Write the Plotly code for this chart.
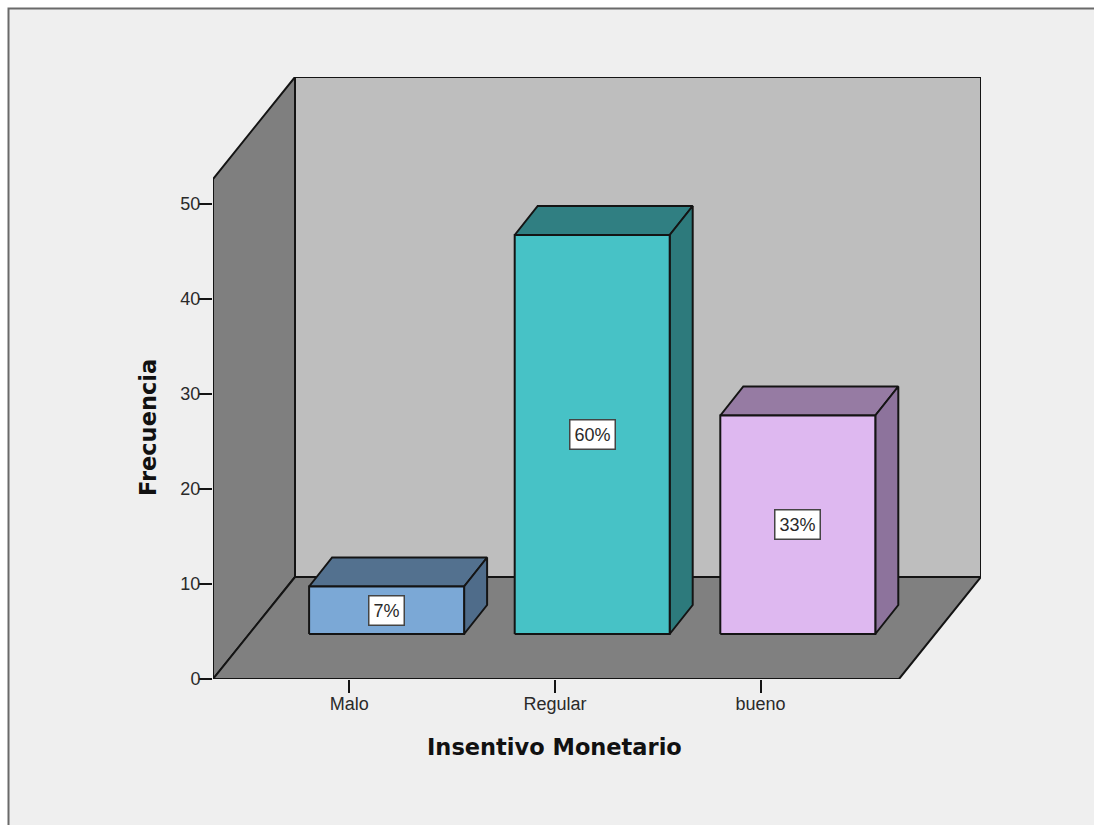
import plotly.graph_objects as go

# ---- data ----
categories = ["Malo", "Regular", "bueno"]
frecuencia = [5, 42, 23]
porcentajes = ["7%", "60%", "33%"]
y_ticks = [0, 10, 20, 30, 40, 50]
x_title = "Insentivo Monetario"
y_title = "Frecuencia"

# ---- styles ----
front_colors = ["#7ba8d6", "#47c2c6", "#deb8f0"]
top_colors = ["#53718f", "#307f82", "#967ba3"]
side_colors = ["#4f6c8a", "#2d7a7c", "#8d739c"]
WALL_BACK, WALL_LEFT, FLOOR = "#bebebe", "#7f7f7f", "#808080"
EDGE = "#141414"
TXT = "#2a2a2a"

# ---- geometry (pixel layout of the page -> axis units) ----
W, H = 1094, 825
PX_L, PX_R, PX_T, PX_B = 213, 981, 77, 679
PX_PER_CAT = 205.6
PX_PER_VAL = 9.5
CAT0_PX = 349.3
cx = lambda px: px / PX_PER_CAT
vy = lambda px: px / PX_PER_VAL
x_left = cx(PX_L - CAT0_PX)
x_right = cx(PX_R - CAT0_PX)
y_max = vy(PX_B - PX_T)
wall_dx, wall_dy = cx(82), vy(102)
axis_top = vy(PX_B - 179)
floor_w = cx(686)
bar_w = cx(155)
bar_dx, bar_dy = cx(23), vy(29)
base_x, base_y = cx(37.3), vy(45)

fig = go.Figure()


def poly(xs, ys, color):
    fig.add_trace(go.Scatter(
        x=xs + xs[:1], y=ys + ys[:1], mode="lines", fill="toself", fillcolor=color,
        line=dict(color=EDGE, width=2), hoverinfo="skip", showlegend=False, cliponaxis=False,
    ))


# walls and floor
x_r = x_left + floor_w
poly([x_left + wall_dx, x_r + wall_dx, x_r + wall_dx, x_left + wall_dx],
     [wall_dy, wall_dy, axis_top + wall_dy, axis_top + wall_dy], WALL_BACK)
poly([x_left, x_left + wall_dx, x_left + wall_dx, x_left],
     [0, wall_dy, axis_top + wall_dy, axis_top], WALL_LEFT)
poly([x_left, x_r, x_r + wall_dx, x_left + wall_dx], [0, 0, wall_dy, wall_dy], FLOOR)

# bars
for i, v in enumerate(frecuencia):
    c = i + base_x
    x0, x1 = c - bar_w / 2, c + bar_w / 2
    y0, y1 = base_y, base_y + v
    poly([x0, x1, x1 + bar_dx, x0 + bar_dx], [y1, y1, y1 + bar_dy, y1 + bar_dy], top_colors[i])
    poly([x1, x1 + bar_dx, x1 + bar_dx, x1], [y0, y0 + bar_dy, y1 + bar_dy, y1], side_colors[i])
    poly([x0, x1, x1, x0], [y0, y0, y1, y1], front_colors[i])
    fig.add_annotation(x=c, y=(y0 + y1) / 2, text=porcentajes[i], showarrow=False,
                       xanchor="center", yanchor="middle",
                       font=dict(family="Liberation Sans, Arial", size=18, color=TXT),
                       bgcolor="white", bordercolor="#444444", borderwidth=1.5, borderpad=4)

pw, ph = PX_R - PX_L, PX_B - PX_T
px2paper = lambda px: (px - PX_L) / pw
py2paper = lambda py: (PX_B - py) / ph

# outer panel
fig.add_shape(type="rect", xref="paper", yref="paper", layer="below",
              x0=px2paper(8.5), x1=px2paper(W + 10), y0=py2paper(8.5), y1=py2paper(H + 10),
              fillcolor="#efefef", line=dict(color="#6a6a6a", width=2))

# axis titles
title_font = dict(family="DejaVu Sans, Verdana", size=22.5, color="#111111", weight="bold")
fig.add_annotation(x=1, xref="x", y=py2paper(747), yref="paper", text=x_title,
                   xanchor="center", yanchor="middle", showarrow=False, font=title_font)
fig.add_annotation(x=px2paper(148), xref="paper", y=py2paper(428), yref="paper", text=y_title,
                   xanchor="center", yanchor="middle", textangle=-90, showarrow=False, font=title_font)

tick_font = dict(family="Liberation Sans, Arial", size=18, color=TXT)
fig.update_layout(
    width=W, height=H, autosize=False,
    margin=dict(l=PX_L, r=W - PX_R, t=PX_T, b=H - PX_B, pad=0),
    paper_bgcolor="white", plot_bgcolor="rgba(0,0,0,0)",
    xaxis=dict(range=[x_left, x_right], tickmode="array", tickvals=list(range(len(categories))),
               ticktext=categories, ticks="outside", ticklen=13, tickwidth=1.8, tickcolor=EDGE,
               showgrid=False, zeroline=False, showline=False, tickfont=tick_font, fixedrange=True,
               ticklabelstandoff=-5),
    yaxis=dict(range=[0, y_max], tickmode="array", tickvals=y_ticks, ticks="outside", ticklen=13,
               tickwidth=1.8, tickcolor=EDGE, showgrid=False, zeroline=False, showline=False,
               tickfont=tick_font, fixedrange=True, ticklabelstandoff=-5),
)

fig.write_html("out.html", config={"displayModeBar": False},
               post_script="document.body.style.margin='0';document.body.style.overflow='hidden';")
